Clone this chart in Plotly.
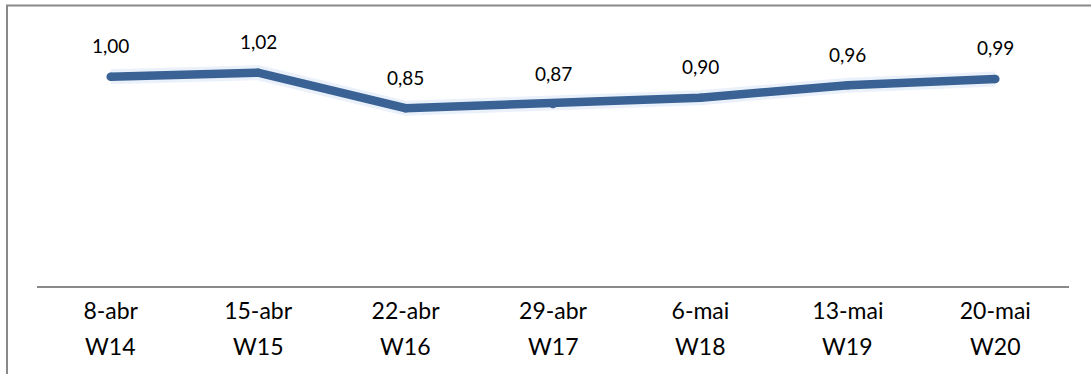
import plotly.graph_objects as go

dates = ["8-abr", "15-abr", "22-abr", "29-abr", "6-mai", "13-mai", "20-mai"]
weeks = ["W14", "W15", "W16", "W17", "W18", "W19", "W20"]
values = [1.00, 1.02, 0.85, 0.87, 0.90, 0.96, 0.99]

cats = list(range(len(dates)))
labels = [f"{v:.2f}".replace(".", ",") for v in values]

LINE = "#3A6294"
FONT = "Lato, 'Open Sans', sans-serif"

W, H = 1091, 374
L, R, T, B = 37, 22, 35, 88
pw, ph = W - L - R, H - T - B

def px_x(p):
    return (p - L) / pw

def px_y(p):
    return (H - B - p) / ph

fig = go.Figure()
# soft glow under the line
fig.add_trace(go.Scatter(x=cats, y=values, mode="lines",
                         line=dict(color="rgba(120,160,225,0.15)", width=15),
                         hoverinfo="skip", showlegend=False))
fig.add_trace(go.Scatter(x=cats, y=values, mode="lines+markers",
                         line=dict(color=LINE, width=8.5),
                         marker=dict(color=LINE, size=8.5, line=dict(width=0)),
                         showlegend=False))

for c, v, t in zip(cats, values, labels):
    fig.add_annotation(x=c, y=v, text=t, showarrow=False, yanchor="middle",
                       yshift=31, font=dict(family=FONT, size=19, color="#000000"))

# second row of category labels (week numbers)
for c, w in zip(cats, weeks):
    fig.add_annotation(x=c, xref="x", y=px_y(346), yref="paper", text=w,
                       showarrow=False, yanchor="middle",
                       font=dict(family=FONT, size=23, color="#000000"))

fig.add_shape(type="rect", xref="paper", yref="paper",
              x0=px_x(7), x1=px_x(1100), y0=px_y(390), y1=px_y(5.5),
              line=dict(color="#898989", width=2), fillcolor="rgba(0,0,0,0)",
              layer="below")

fig.update_layout(
    width=W, height=H,
    margin=dict(l=L, r=R, t=T, b=B),
    paper_bgcolor="white", plot_bgcolor="white",
    xaxis=dict(range=[-0.5, len(dates) - 0.5], tickmode="array", tickvals=cats,
               ticktext=dates, showline=True, linecolor="#898989", linewidth=2,
               showgrid=False, zeroline=False, ticks="", ticklabelstandoff=3,
               tickfont=dict(family=FONT, size=23, color="#000000")),
    yaxis=dict(range=[0, 1.2], visible=False, showgrid=False, zeroline=False),
)

fig.write_html("out.html", config={"displayModeBar": False},
               post_script="document.body.style.margin='0';document.body.style.overflow='hidden';")
